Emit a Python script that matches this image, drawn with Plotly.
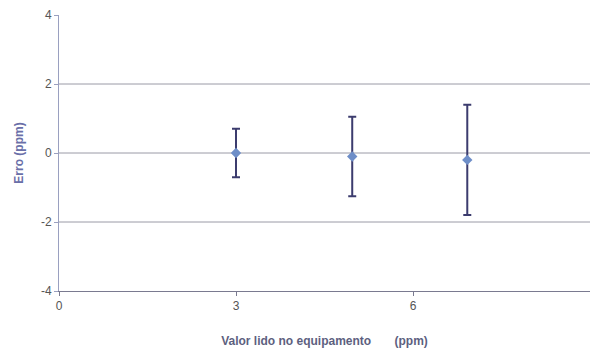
import plotly.graph_objects as go

x_vals = [3.0, 4.97, 6.92]
y_vals = [0.0, -0.1, -0.2]
err_vals = [0.7, 1.15, 1.6]
y_ticks = [-4, -2, 0, 2, 4]
y_ticktext = ["-4", "-2", "0", "2", "4"]
x_ticks = [0, 3, 6]
grid_lines = [-2, 0, 2]

fig = go.Figure()
fig.add_trace(go.Scatter(
    x=x_vals, y=y_vals, mode="markers",
    marker=dict(symbol="diamond", size=8, color="#6e8ec8"),
    error_y=dict(type="data", array=err_vals, visible=True,
                 color="#3c3c6e", thickness=2, width=4),
    showlegend=False,
))

for g in grid_lines:
    fig.add_shape(type="line", xref="paper", x0=0, x1=1, yref="y", y0=g, y1=g,
                  line=dict(color="#9a9aa6", width=1), layer="below")

fig.update_layout(
    width=595, height=351,
    margin=dict(l=59, r=5, t=15, b=60),
    paper_bgcolor="white", plot_bgcolor="white",
    font=dict(family="Liberation Sans, Arial, sans-serif", size=12, color="#555555"),
    xaxis=dict(range=[0, 9], tickvals=x_ticks, showgrid=False, zeroline=False,
               showline=True, linecolor="#7a7a90", linewidth=1,
               ticks="outside", ticklen=4, tickcolor="#7a7a90",
               title=dict(text="<b>Valor lido no equipamento &nbsp;&nbsp;&nbsp;&nbsp;&nbsp;&nbsp;(ppm)</b>",
                          font=dict(size=12, color="#5d5f80"), standoff=24)),
    yaxis=dict(range=[-4, 4], tickvals=y_ticks, ticktext=y_ticktext,
               showgrid=False, zeroline=False,
               showline=True, linecolor="#9aa0c0", linewidth=1,
               ticks="outside", ticklen=4, tickcolor="#9aa0c0",
               title=dict(text="<b>Erro (ppm)</b>", font=dict(size=12, color="#6a6fa8"),
                          standoff=14)),
)

fig.write_html("out.html")
